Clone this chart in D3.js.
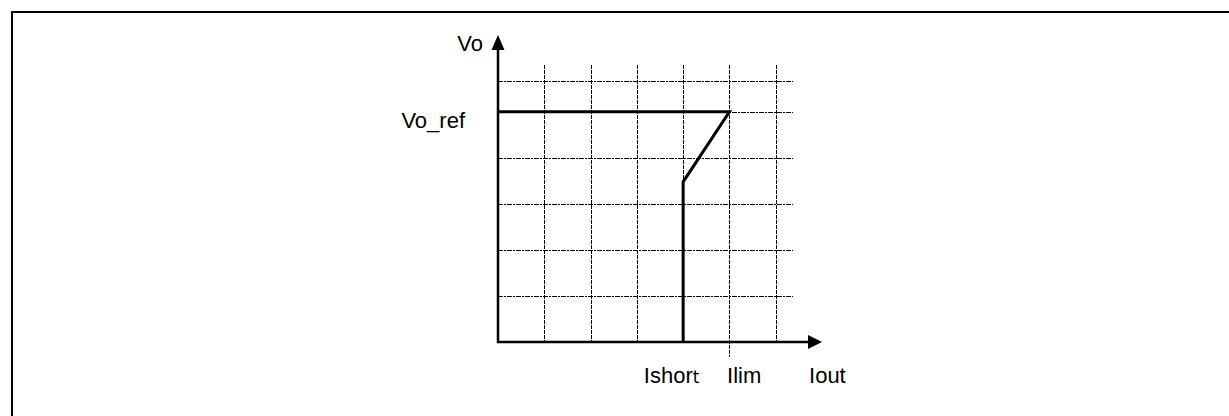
<!DOCTYPE html>
<html>
<head>
<meta charset="utf-8">
<script src="https://cdn.jsdelivr.net/npm/d3@7"></script>
<style>
  body { margin: 0; background: #fff; }
  text { font-family: "Liberation Sans", Arial, sans-serif; font-size: 22px; fill: #000; }
</style>
</head>
<body>
<div id="CHART"></div>
<script>
var WIDTH = 1229, HEIGHT = 416;

// grid positions (in grid units)
var xGrid = [1, 2, 3, 4, 5, 6];
var yGrid = [1, 2, 3, 4, 5.67];

// current-limit curve: Vo_ref flat until Ilim, then fold back down to Ishort
var curveI = [0, 5, 4, 4];
var curveV = [5, 5, 3.48, 0];

// x axis labels
var xLabels = ["Ishor", "Ilim", "Iout"];
var xLabelPos = [3.15, 4.95, 6.72];

var svg = d3.select("#CHART")
    .append("svg")
    .attr("width", WIDTH)
    .attr("height", HEIGHT);

// frame (right and bottom edges fall outside the picture)
svg.append("rect")
    .attr("x", 12).attr("y", 12)
    .attr("width", 1300).attr("height", 500)
    .attr("fill", "none")
    .attr("stroke", "black")
    .attr("stroke-width", 2);

var x = d3.scaleLinear().domain([0, 7]).range([498, 822]);
var y = d3.scaleLinear().domain([0, 6.67]).range([342, 35]);

// horizontal grid
svg.selectAll("hgrid")
    .data(yGrid.concat([5]))
    .enter()
    .append("line")
    .attr("x1", x(0)).attr("x2", x(6.37))
    .attr("y1", function(d) { return Math.round(y(d)) + 0.5; })
    .attr("y2", function(d) { return Math.round(y(d)) + 0.5; })
    .attr("stroke", "black")
    .attr("stroke-width", 1)
    .attr("stroke-dasharray", "5,1,2,1")
    .attr("shape-rendering", "crispEdges");

// vertical grid, the one at Ilim goes a bit below the axis
svg.selectAll("vgrid")
    .data(xGrid)
    .enter()
    .append("line")
    .attr("x1", function(d) { return Math.round(x(d)) + 0.5; })
    .attr("x2", function(d) { return Math.round(x(d)) + 0.5; })
    .attr("y1", y(6.02))
    .attr("y2", function(d) { return d == 5 ? y(-0.33) : y(0); })
    .attr("stroke", "black")
    .attr("stroke-width", 1)
    .attr("stroke-dasharray", "4,1")
    .attr("shape-rendering", "crispEdges");

// axes
svg.append("line")
    .attr("x1", x(0)).attr("x2", x(0))
    .attr("y1", y(0) + 1).attr("y2", y(6.4))
    .attr("stroke", "black").attr("stroke-width", 2.5);
svg.append("line")
    .attr("x1", x(0) - 1).attr("x2", x(6.7))
    .attr("y1", y(0)).attr("y2", y(0))
    .attr("stroke", "black").attr("stroke-width", 2.5);

// arrow heads
svg.append("path")
    .attr("d", "M" + x(0) + "," + y(6.67) + " L" + (x(0) - 6.5) + "," + (y(6.67) + 15) + " L" + (x(0) + 6.5) + "," + (y(6.67) + 15) + " Z")
    .attr("fill", "black");
svg.append("path")
    .attr("d", "M" + x(7) + "," + y(0) + " L" + (x(7) - 14) + "," + (y(0) - 7) + " L" + (x(7) - 14) + "," + (y(0) + 7) + " Z")
    .attr("fill", "black");

// the characteristic curve
var line = d3.line()
    .x(function(d) { return x(d[0]); })
    .y(function(d) { return y(d[1]); });

svg.append("path")
    .datum(d3.zip(curveI, curveV))
    .attr("d", line)
    .attr("fill", "none")
    .attr("stroke", "black")
    .attr("stroke-width", 3)
    .attr("stroke-linejoin", "miter");

// labels
svg.append("text")
    .attr("x", x(0) - 15).attr("y", y(6.67) + 16)
    .attr("text-anchor", "end")
    .text("Vo");

svg.append("text")
    .attr("x", x(0) - 33).attr("y", y(5) + 16)
    .attr("text-anchor", "end")
    .text("Vo_ref");

var lbl = svg.selectAll("xlabels")
    .data(xLabels)
    .enter()
    .append("text")
    .attr("x", function(d, i) { return x(xLabelPos[i]); })
    .attr("y", 383)
    .text(function(d) { return d; });

// the last letter of Ishort is set in another face
d3.select(lbl.nodes()[0])
    .append("tspan")
    .style("font-family", "'DejaVu Sans'")
    .style("font-size", "17px")
    .text("t");
</script>
</body>
</html>
